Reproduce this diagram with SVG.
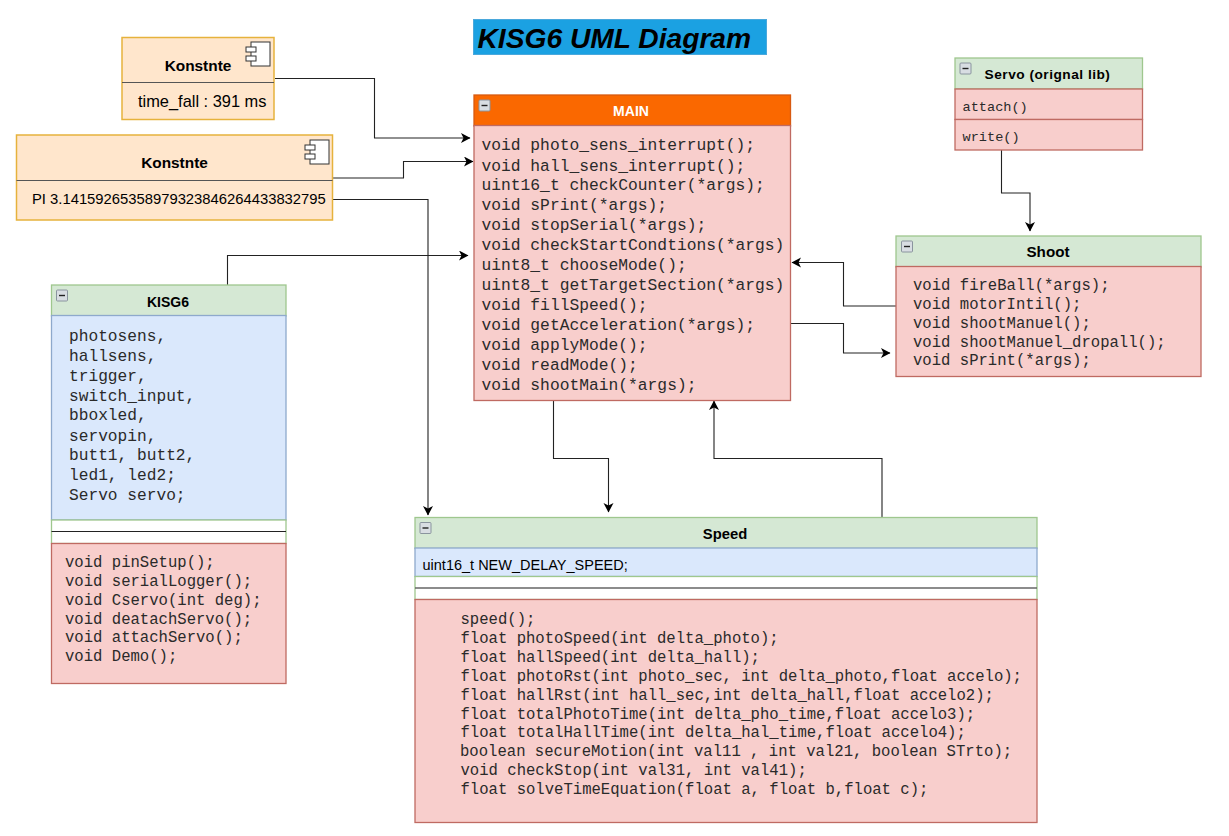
<svg xmlns="http://www.w3.org/2000/svg" width="1229" height="836" viewBox="0 0 1229 836">
<style>
text{font-family:"Liberation Sans",Arial,sans-serif;fill:#000}
.t{font-weight:bold;font-size:14px;text-anchor:middle}
.m{font-family:"Liberation Mono","Courier New",monospace;fill:#2a2a2a}
.or{fill:#ffe6cc;stroke:#e6b23c;stroke-width:1.5}
.gr{fill:#d5e8d4;stroke:#9fc78e;stroke-width:1.3}
.re{fill:#f8cecc;stroke:#bf6a62;stroke-width:1.3}
.bl{fill:#dae8fc;stroke:#8ea9cc;stroke-width:1.3}
.wh{fill:#fff;stroke:#9fc78e;stroke-width:1.3}
.ln{stroke:#555;stroke-width:1.2;fill:none}
.c{fill:none;stroke:#222;stroke-width:1.1}
.ic{fill:#fff;stroke:#333;stroke-width:1}
.bx{fill:#d8dde2;stroke:#8a949e;stroke-width:1}
.da{stroke:#222;stroke-width:1.4}
</style>
<defs>
<marker id="a" markerUnits="userSpaceOnUse" markerWidth="11" markerHeight="11" refX="9" refY="5" orient="auto"><path d="M0 0L9.500 5L0 10L2.500 5Z" fill="#000"/></marker>
<g id="minus"><rect class="bx" x="0" y="0" width="11" height="11" rx="1"/><path class="da" d="M2.500 5.500H8.500"/></g>
<g id="comp"><rect class="ic" x="0" y="0" width="19" height="24"/><rect class="ic" x="-5" y="5" width="10" height="5"/><rect class="ic" x="-5" y="14" width="10" height="5"/></g>
</defs>

<g id="title"><rect x="473.500" y="19.500" width="293" height="35" fill="#1ba1e2" stroke="#4aa8dc"/>
<text x="477.500" y="48" font-size="28.200" font-weight="bold" font-style="italic">KISG6 UML Diagram</text></g>

<g id="connectors">
<path class="c" marker-end="url(#a)" d="M275 78.500H374.500V138H470"/>
<path class="c" marker-end="url(#a)" d="M333 178H403.500V161.500H473"/>
<path class="c" marker-end="url(#a)" d="M333 199.500H428V515"/>
<path class="c" marker-end="url(#a)" d="M227.500 285V255.500H468"/>
<path class="c" marker-end="url(#a)" d="M553.500 401V458.500H608.500V512"/>
<path class="c" marker-end="url(#a)" d="M882 517V458.500H714V401"/>
<path class="c" marker-end="url(#a)" d="M1001.500 150V193H1030V231"/>
<path class="c" marker-end="url(#a)" d="M896 306H843.500V262.500H792"/>
<path class="c" marker-end="url(#a)" d="M791 323.500H843.500V353H890"/>
</g>

<g id="konst1">
<rect class="or" x="122" y="37.500" width="152" height="82"/>
<path class="ln" d="M122 82.500H274"/>
<use href="#comp" x="251" y="42"/>
<text class="t" x="198" y="71" style="font-size:15.400px">Konstnte</text>
<text x="138" y="107" font-size="16.400">time_fall : 391 ms</text>
</g>

<g id="konst2">
<rect class="or" x="16.500" y="135" width="316" height="85"/>
<path class="ln" d="M16.500 180.500H332.500"/>
<use href="#comp" x="310" y="140"/>
<text class="t" x="174.500" y="168" style="font-size:15.400px">Konstnte</text>
<text x="32" y="204" font-size="14.800">PI 3.14159265358979323846264433832795</text>
</g>

<g id="main">
<rect x="474" y="95" width="316.500" height="31" fill="#fa6800" stroke="#d85a10" stroke-width="1.300"/>
<rect class="re" x="474" y="125.500" width="316.500" height="275"/>
<use href="#minus" x="479" y="100"/>
<text class="t" x="631" y="116" style="fill:#fff">MAIN</text>
<g font-size="16.300">
<text class="m" x="481.500" y="149.500">void photo_sens_interrupt();</text>
<text class="m" x="481.500" y="170.500">void hall_sens_interrupt();</text>
<text class="m" x="481.500" y="190">uint16_t checkCounter(*args);</text>
<text class="m" x="481.500" y="210">void sPrint(*args);</text>
<text class="m" x="481.500" y="230">void stopSerial(*args);</text>
<text class="m" x="481.500" y="250">void checkStartCondtions(*args)</text>
<text class="m" x="481.500" y="270">uint8_t chooseMode();</text>
<text class="m" x="481.500" y="290">uint8_t getTargetSection(*args)</text>
<text class="m" x="481.500" y="310">void fillSpeed();</text>
<text class="m" x="481.500" y="330">void getAcceleration(*args);</text>
<text class="m" x="481.500" y="350">void applyMode();</text>
<text class="m" x="481.500" y="370">void readMode();</text>
<text class="m" x="481.500" y="390">void shootMain(*args);</text>
</g>
</g>

<g id="servo">
<rect class="gr" x="955" y="58" width="187.500" height="31"/>
<rect class="re" x="955" y="89" width="187.500" height="30.500"/>
<rect class="re" x="955" y="119.500" width="187.500" height="30.500"/>
<use href="#minus" x="960" y="63"/>
<text class="t" x="1047.500" y="79" style="font-size:13.700px" letter-spacing="0.500">Servo (orignal lib)</text>
<g font-size="13.600">
<text class="m" x="962.500" y="111">attach()</text>
<text class="m" x="962.500" y="141">write()</text>
</g>
</g>

<g id="shoot">
<rect class="gr" x="896" y="236" width="305" height="31"/>
<rect class="re" x="896" y="266.500" width="305" height="110"/>
<use href="#minus" x="901.500" y="241"/>
<text class="t" x="1048" y="257" style="font-size:15.200px">Shoot</text>
<g font-size="15.600">
<text class="m" x="913" y="289.500">void fireBall(*args);</text>
<text class="m" x="913" y="308.500">void motorIntil();</text>
<text class="m" x="913" y="327.500">void shootManuel();</text>
<text class="m" x="913" y="346.500">void shootManuel_dropall();</text>
<text class="m" x="913" y="365">void sPrint(*args);</text>
</g>
</g>

<g id="kisg6">
<rect class="gr" x="51.500" y="285" width="234.500" height="31"/>
<rect class="bl" x="51.500" y="315.500" width="234.500" height="204.500"/>
<rect class="wh" x="51.500" y="520" width="234.500" height="23.500"/>
<path d="M51.500 531.500H286" stroke="#222" stroke-width="1.200"/>
<rect class="re" x="51.500" y="543.500" width="234.500" height="140"/>
<use href="#minus" x="56.500" y="290"/>
<text class="t" x="168" y="307">KISG6</text>
<g font-size="16.200">
<text class="m" x="69" y="341">photosens,</text>
<text class="m" x="69" y="361">hallsens,</text>
<text class="m" x="69" y="381">trigger,</text>
<text class="m" x="69" y="401">switch_input,</text>
<text class="m" x="69" y="420">bboxled,</text>
<text class="m" x="69" y="441">servopin,</text>
<text class="m" x="69" y="460">butt1, butt2,</text>
<text class="m" x="69" y="480">led1, led2;</text>
<text class="m" x="69" y="500">Servo servo;</text>
</g>
<g font-size="15.600">
<text class="m" x="65" y="566.500">void pinSetup();</text>
<text class="m" x="65" y="585.500">void serialLogger();</text>
<text class="m" x="65" y="604.500">void Cservo(int deg);</text>
<text class="m" x="65" y="623.500">void deatachServo();</text>
<text class="m" x="65" y="641.500">void attachServo();</text>
<text class="m" x="65" y="660.500">void Demo();</text>
</g>
</g>

<g id="speed">
<rect class="gr" x="415" y="517.500" width="622" height="31"/>
<rect class="bl" x="415" y="548" width="622" height="28.500"/>
<rect class="wh" x="415" y="576.500" width="622" height="23"/>
<path d="M415 588H1037" stroke="#666" stroke-width="1.500"/>
<rect class="re" x="415" y="599.500" width="622" height="223"/>
<use href="#minus" x="420" y="522.500"/>
<text class="t" x="725" y="539" style="font-size:14.800px">Speed</text>
<text x="422.500" y="570" font-size="14.500">uint16_t NEW_DELAY_SPEED;</text>
<g font-size="15.600">
<text class="m" x="460.500" y="623.500">speed();</text>
<text class="m" x="460.500" y="642.500">float photoSpeed(int delta_photo);</text>
<text class="m" x="460.500" y="661.500">float hallSpeed(int delta_hall);</text>
<text class="m" x="460.500" y="680.500">float photoRst(int photo_sec, int delta_photo,float accelo);</text>
<text class="m" x="460.500" y="699.500">float hallRst(int hall_sec,int delta_hall,float accelo2);</text>
<text class="m" x="460.500" y="718.500">float totalPhotoTime(int delta_pho_time,float accelo3);</text>
<text class="m" x="460.500" y="736.500">float totalHallTime(int delta_hal_time,float accelo4);</text>
<text class="m" x="460" y="755.500">boolean secureMotion(int val11 , int val21, boolean STrto);</text>
<text class="m" x="460.500" y="774.500">void checkStop(int val31, int val41);</text>
<text class="m" x="460.500" y="793.500">float solveTimeEquation(float a, float b,float c);</text>
</g>
</g>
</svg>
